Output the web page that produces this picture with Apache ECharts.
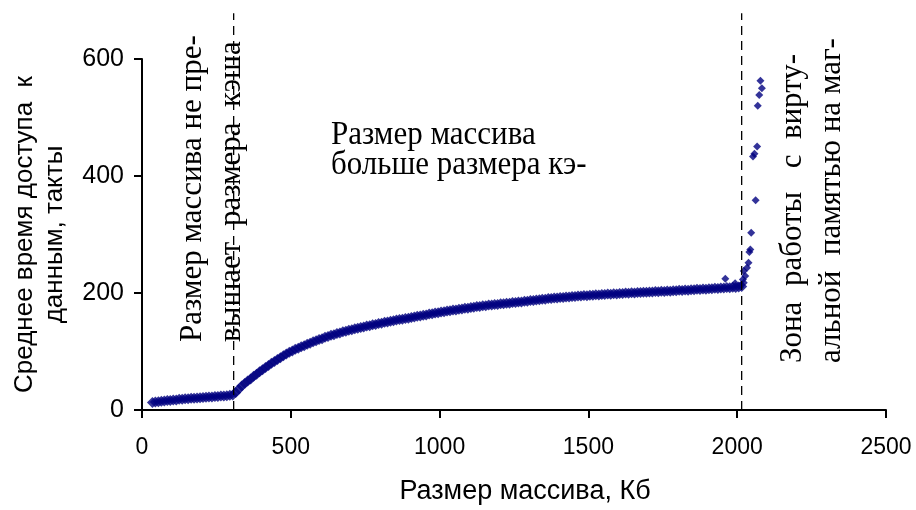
<!DOCTYPE html>
<html><head><meta charset="utf-8">
<script src="https://cdn.jsdelivr.net/npm/echarts@6/dist/echarts.min.js"></script>
<style>html,body{margin:0;padding:0;background:#fff}#c{width:916px;height:510px}</style>
</head><body><div id="c"></div>
<script>
// Array fits in cache (Kb, ticks)
var cacheFit = [[35,13],[45,13.8],[55,14.2],[65,15.1],[75,15.4],[85,16.2],[95,16.4],[105,17.1],[115,17.3],[125,18.2],[135,18.4],[145,19.1],[155,19.2],[165,19.9],[175,20.1],[185,20.4],[195,21.1],[205,21.2],[215,21.8],[225,22.1],[235,22.3],[245,23.1],[255,23.2],[265,23.8],[275,24.1],[285,24.4],[295,25.1],[305,25.5]];
// Array larger than cache
var cacheMiss = [[315,30],[325,35.3],[335,40.9],[345,45.1],[355,49.4],[365,53.1],[375,57.6],[385,61],[395,65.2],[405,68.6],[415,72.7],[425,76],[435,79.9],[445,82.8],[455,86.5],[465,89.3],[475,92.9],[485,95.6],[495,98.7],[505,100.8],[515,103.7],[525,105.6],[535,108.2],[545,110],[555,112.6],[565,114.3],[575,116.7],[585,118.3],[595,120.6],[605,122],[615,124.2],[625,125.5],[635,127.6],[645,128.8],[655,130.8],[665,131.8],[675,133.6],[685,134.6],[695,136.3],[705,137.2],[715,138.8],[725,139.6],[735,141.2],[745,141.9],[755,143.4],[765,144.1],[775,145.6],[785,146.3],[795,147.8],[805,148.5],[815,149.9],[825,150.5],[835,151.9],[845,152.5],[855,153.8],
[865,154.5],[875,155.1],[885,156.4],[895,157],[905,158.3],[915,158.9],[925,160.2],[935,160.8],[945,162.1],[955,162.6],[965,163.9],[975,164.4],[985,165.7],[995,166.2],[1005,167.5],[1015,168],[1025,169.2],[1035,169.6],[1045,170.8],[1055,171.1],[1065,172.4],[1075,172.6],[1085,173.9],[1095,174.1],[1105,175.4],[1115,175.6],[1125,176.9],[1135,177.1],[1145,178.2],[1155,178.3],[1165,179.3],[1175,179.4],[1185,180.4],[1195,180.5],[1205,181.5],[1215,181.6],[1225,182.6],[1235,182.6],[1245,183.6],[1255,183.7],[1265,184.8],[1275,184.8],[1285,185.9],[1295,185.9],[1305,187.1],[1315,187.1],[1325,188.2],[1335,188.3],[1345,189.4],[1355,189.4],[1365,190.5],[1375,190.4],[1385,191.4],[1395,191.3],[1405,192.3],[1415,192.2],[1425,193.2],[1435,193.1],[1445,194.1],[1455,194],[1465,195],[1475,194.9],[1485,195.7],[1495,195.5],[1505,196.3],[1515,196.1],[1525,196.9],[1535,196.7],[1545,197.5],[1555,197.3],[1565,198.1],[1575,197.9],[1585,198.7],[1595,198.5],[1605,199.3],[1615,199.1],[1625,199.9],[1635,199.7],[1645,200.4],[1655,200.2],[1665,200.9],[1675,200.7],[1685,201.4],[1695,201.2],[1705,201.9],[1715,201.7],[1725,202.4],[1735,202.2],[1745,202.9],[1755,202.7],[1765,203.4],[1775,203.2],[1785,204],[1795,203.8],[1805,204.5],[1815,204.3],[1825,205.1],[1835,204.9],[1845,205.7],[1855,205.5],[1865,206.3],[1875,206.1],[1885,206.9],[1895,206.6],[1905,207.4],[1915,207.2],[1925,208],[1935,207.8],[1945,208.6],[1955,208.4],[1965,209.2],[1975,208.9],[1985,209.7],[1995,209.5],[2005,210.4],[2015,211.2]];
// Virtual memory / swap zone
var swapZone = [[1960,224.5],[1993,216.5],[2013,214],[2019,223],[2022,217.6],[2022,237.5],[2027,229],[2033,243],[2038,251.7],[2041,270],[2044,274.4],[2047,303],[2062,358.4],[2053,433.5],[2058,438],[2067,450.5],[2069,520],[2074,538.6],[2083,550],[2078,563]];
// Boundary markers (Kb) and their top (ticks)
var boundaryKb = [308, 2015];
var boundaryTop = 678;
var xTickStep = 500, xMax = 2500;
var yTickStep = 200, yMax = 600;

var sans = '"Liberation Sans", Arial, sans-serif';
var serif = '"Liberation Serif", "Times New Roman", serif';
var chart = echarts.init(document.getElementById('c'), null, {renderer: 'canvas'});
var series = [{
  type: 'scatter', data: cacheFit.concat(cacheMiss), symbol: 'diamond', symbolSize: 11,
  itemStyle: {color: '#000080'}, silent: true, z: 3
}, {
  type: 'scatter', data: swapZone, symbol: 'diamond', symbolSize: 8,
  itemStyle: {color: '#000080'}, silent: true, z: 3
}];
boundaryKb.forEach(function (b) {
  series.push({
    type: 'line', data: [[b, 0], [b, boundaryTop]], symbol: 'none', clip: false, silent: true, z: 4,
    lineStyle: {color: '#000', width: 1.3, type: [9, 6]}
  });
});
var annFont = '31px ' + serif;
chart.setOption({
  animation: false,
  backgroundColor: '#fff',
  grid: {left: 142, right: 30, top: 59, bottom: 99},
  xAxis: {
    type: 'value', min: 0, max: xMax, interval: xTickStep,
    name: 'Размер массива, Кб', nameLocation: 'middle', nameGap: 68,
    nameTextStyle: {fontFamily: sans, fontSize: 27, color: '#000', padding: [0, 0, 0, 22]},
    axisLine: {lineStyle: {color: '#000', width: 2}},
    axisTick: {length: 8, lineStyle: {color: '#000', width: 2}},
    axisLabel: {fontFamily: sans, fontSize: 23, color: '#000', margin: 26,
                formatter: function (v) { return String(v); }},
    splitLine: {show: false}
  },
  yAxis: {
    type: 'value', min: 0, max: yMax, interval: yTickStep,
    name: 'Среднее время доступа  к\nданным, такты', nameLocation: 'middle', nameGap: 72, nameRotate: 90,
    nameTextStyle: {fontFamily: sans, fontSize: 26, color: '#000', lineHeight: 30},
    axisLine: {show: true, lineStyle: {color: '#000', width: 2}},
    axisTick: {show: true, length: 8, lineStyle: {color: '#000', width: 2}},
    axisLabel: {fontFamily: sans, fontSize: 25, color: '#000', margin: 18,
                formatter: function (v) { return String(v); }},
    splitLine: {show: false}
  },
  series: series,
  graphic: [
    {type: 'text', x: 212, y: 342, rotation: Math.PI / 2, z: 2,
     style: {text: 'Размер массива не пре-\nвышает  размера  кэша', font: annFont, fill: '#000',
             align: 'left', verticalAlign: 'middle', textAlign: 'left', textVerticalAlign: 'middle', lineHeight: 39}},
    {type: 'text', x: 331, y: 120, z: 2, scaleY: 1.1,
     style: {text: 'Размер массива\nбольше размера кэ-', font: annFont, fill: '#000',
             align: 'left', verticalAlign: 'top', textAlign: 'left', textVerticalAlign: 'top', lineHeight: 27.5}},
    {type: 'text', x: 812, y: 363, rotation: Math.PI / 2, z: 2,
     style: {text: 'Зона  работы   с  вирту-\nальной  памятью на маг-', font: annFont, fill: '#000',
             align: 'left', verticalAlign: 'middle', textAlign: 'left', textVerticalAlign: 'middle', lineHeight: 39}}
  ]
});
</script></body></html>
